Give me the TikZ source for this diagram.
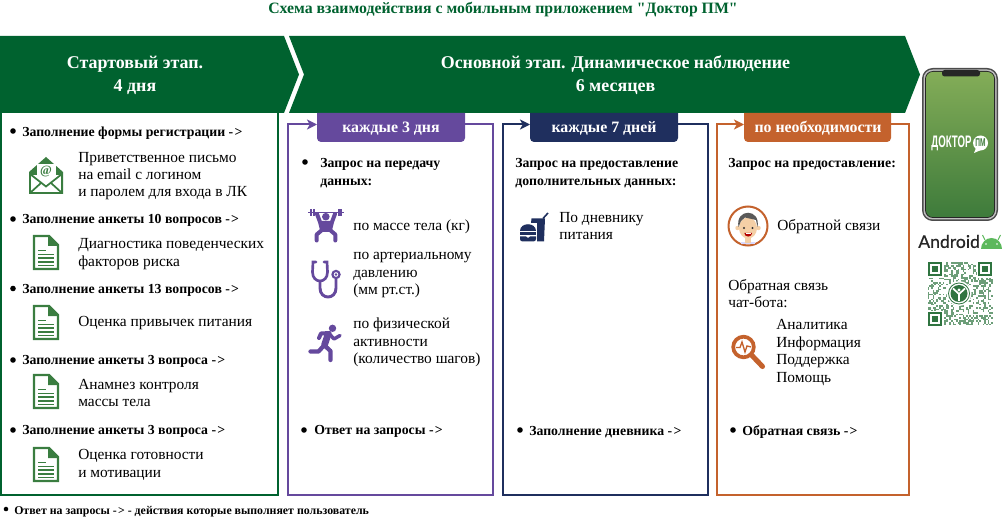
\documentclass[tikz,border=0pt]{standalone}
\usepackage{fontspec}
\setmainfont{Liberation Serif}
\newfontfamily\rawserif{Liberation Serif}
\newfontfamily\andfont{Lato}[FakeBold=0.5]
\newfontfamily\phonefont{Liberation Sans}[FakeStretch=0.58]
\usetikzlibrary{arrows.meta,calc}
\definecolor{bannergreen}{HTML}{00622F}
\definecolor{icongreen}{HTML}{3A7D40}
\definecolor{purp}{HTML}{65499D}
\definecolor{navy}{HTML}{1F2F5E}
\definecolor{orng}{HTML}{C4622D}
\newcommand{\arr}{-\kern.9pt>}
\tikzset{
 body/.style={anchor=west,inner sep=0pt,align=left,yshift=-1.2pt,font=\fontsize{11.55pt}{13.1pt}\selectfont,text=black},
 head/.style={anchor=west,inner sep=0pt,align=left,yshift=-1.3pt,font=\fontsize{10.35pt}{13.1pt}\selectfont\bfseries,text=black},
 bannertext/.style={inner sep=0pt,align=center,yshift=-1.2pt,text=white,font=\fontsize{13.45pt}{17.2pt}\selectfont\bfseries},
 tabtext/.style={inner sep=0pt,yshift=-1.2pt,text=white,font=\fontsize{11.9pt}{12pt}\selectfont\bfseries},
 dotb/.style={circle,fill=black,inner sep=0pt,minimum size=4.2pt},
 framearrow/.style={line width=1.5pt,-{Stealth[length=7.5pt,width=7.5pt,inset=2pt]}},
}
\newcommand{\docicon}[2]{\begin{scope}[shift={(#1,#2)}]
 \draw[icongreen,line width=1.6pt,line join=miter] (1,1)--(16,1)--(25,10)--(25,34)--(1,34)--cycle;
 \fill[icongreen] (15,1)--(25,11)--(15,11)--cycle;
 \draw[icongreen,line width=1.1pt] (5,15.5)--(13,15.5) (5,19.5)--(21,19.5) (5,23.2)--(21,23.2) (5,27)--(21,27) (5,30.5)--(21,30.5);
\end{scope}}
\begin{document}
\begin{tikzpicture}[x=0.75pt,y=-0.75pt]
\useasboundingbox (0,0) rectangle (1002,520);
% title
\node[inner sep=0pt,text=bannergreen,font=\rawserif\fontsize{11.85pt}{12pt}\selectfont\bfseries] (title) at (503,9.5) {Схема взаимодействия с мобильным приложением "Доктор ПМ"};
% banners
\fill[bannergreen] (0,36)--(284,36)--(299,74.5)--(284,113)--(0,113)--cycle;
\fill[bannergreen] (289,36)--(905,36)--(920,74.5)--(905,113)--(289,113)--(304,74.5)--cycle;
\node[bannertext] (b1) at (135,73.5) {Стартовый этап.\\4 дня};
\node[bannertext] (b2) at (615.5,73.5) {Основной этап. Динамическое наблюдение\\6 месяцев};
% left box
\draw[bannergreen,line width=1.5pt] (1,113)--(1,494.5)--(278,494.5)--(278,113);
% left content
\foreach \n/\y/\t in {1/131/Заполнение формы регистрации \arr,2/219/Заполнение анкеты 10 вопросов \arr,3/288.5/Заполнение анкеты 13 вопросов \arr,4/360/Заполнение анкеты 3 вопроса \arr,5/430/Заполнение анкеты 3 вопроса \arr}{
 \node[dotb] (ld\n) at (13,\y) {};
 \node[head] (lh\n) at (22,\y) {\t};
}
% mail icon
\fill[icongreen] (29,172)--(46,157)--(63,172)--(63,194)--(29,194)--cycle;
\fill[white] (31,175) rectangle (61,192);
\fill[white] (36.5,164) rectangle (55.5,180);
\node[inner sep=0pt,text=icongreen,font=\fontsize{9.5pt}{9.5pt}\selectfont\bfseries] (at) at (46,171.5) {@};
\draw[icongreen,line width=1.3pt] (30,174)--(46,186.5)--(62,174);
\draw[icongreen,line width=1.3pt] (30,193)--(41,183) (62,193)--(51,183);
\node[body] (t1) at (78,174.5) {Приветственное письмо\\на email с логином\\и паролем для входа в ЛК};
\docicon{33}{235}
\node[body] (t2) at (78,252.5) {Диагностика поведенческих\\факторов риска};
\docicon{33}{305}
\node[body] (t3) at (78,321) {Оценка привычек питания};
\docicon{33}{374}
\node[body] (t4) at (78,391.5) {Анамнез контроля\\массы тела};
\docicon{33}{447}
\node[body] (t5) at (78,463.5) {Оценка готовности\\и мотивации};
% bottom note
\node[dotb,minimum size=3.4pt] (nd) at (6,509) {};
\node[anchor=west,inner sep=0pt,yshift=-1.1pt,font=\fontsize{8.9pt}{10pt}\selectfont\bfseries] (note) at (14,510) {Ответ на запросы \arr{} - действия которые выполняет пользователь};
% tabs
\fill[purp] (317,113) [rounded corners=3pt] --(317,142)--(465,142) [sharp corners] --(465,113)--cycle;
\fill[navy] (530,113) [rounded corners=3pt] --(530,142)--(678,142) [sharp corners] --(678,113)--cycle;
\fill[orng] (744,113) [rounded corners=3pt] --(744,142)--(891,142) [sharp corners] --(891,113)--cycle;
\node[tabtext] (ta) at (391,127) {каждые 3 дня};
\node[tabtext] (tb) at (604,127) {каждые 7 дней};
\node[tabtext] (tc) at (818,127) {по необходимости};
% frames
\coordinate (a1) at (465,124.5); \coordinate (a2) at (317,124.5);
\coordinate (b3) at (678,124.5); \coordinate (b4) at (530,124.5);
\coordinate (c1) at (891,124.5); \coordinate (c2) at (744,124.5);
\draw[purp,framearrow] (a1)--(493,124.5)--(493,495)--(288,495)--(288,124.5)--(a2);
\draw[navy,framearrow] (b3)--(708,124.5)--(708,495)--(503,495)--(503,124.5)--(b4);
\draw[orng,framearrow] (c1)--(909,124.5)--(909,495)--(717,495)--(717,124.5)--(c2);
% purple col
\node[dotb] (pd) at (305,162) {};
\node[head] (p1) at (320,171.5) {Запрос на передачу\\данных:};
\node[body] (p2) at (353,225) {по массе тела (кг)};
\node[body] (p3) at (353,273.5) {по артериальному\\давлению\\(мм рт.ст.)};
\node[body] (p4) at (353,341) {по физической\\активности\\(количество шагов)};
\node[dotb] (pd2) at (304,430) {};
\node[head] (p5) at (314,430) {Ответ на запросы \arr};
% barbell
\begin{scope}[purp]
\draw[line width=1pt] (308,212.7)--(344,212.7);
\draw[line width=1.5pt] (311,209.5)--(311,216) (313.5,209)--(313.5,216.5) (338.5,209)--(338.5,216.5) (341,209.5)--(341,216);
\draw[line width=3pt,line join=round,line cap=round] (317,214)--(320,222)--(322,230)--(316.7,234.5)--(316.7,240.5);
\draw[line width=3pt,line join=round,line cap=round] (335,214)--(332,222)--(330,230)--(335.3,234.5)--(335.3,240.5);
\fill (319.5,221)--(332.5,221)--(330.5,232)--(321.5,232)--cycle;
\fill (325.8,216.7) circle (3.8);
% stethoscope
\draw[line width=2pt,line cap=round] (316,262)--(313,262)--(312.5,272) .. controls (312.5,284) and (327.5,284) .. (327.5,272)--(327,262)--(324,262);
\draw[line width=2.2pt] (320,281) -- (320,288) .. controls (320,300) and (336,300) .. (336,288) -- (336,279);
\draw[line width=1.6pt] (336,274.5) circle (3.6);
\fill (336,274.5) circle (1.3);
% runner
\fill (332.5,328.3) circle (3.7);
\draw[line width=5pt,line cap=round] (328,334.5)--(324.5,345);
\draw[line width=3pt,line cap=round,line join=round] (319,338)--(321,333.5)--(329.5,333);
\draw[line width=3.2pt,line cap=round,line join=round] (324,345)--(330.5,351)--(330.5,360);
\draw[line width=3.2pt,line cap=round,line join=round] (323.5,346)--(318.5,351.5)--(310.5,351.5);
\draw[line width=2.6pt,line cap=round,line join=round] (329.5,334)--(334,339)--(340,335.5);
\end{scope}
% navy col
\node[head] (n1) at (515,171.5) {Запрос на предоставление\\дополнительных данных:};
\node[body] (n2) at (559,224.5) {По дневнику\\питания};
\node[dotb] (nd2) at (520,430) {};
\node[head] (n3) at (529,430) {Заполнение дневника \arr};
\begin{scope}[navy]
\fill (531.5,218.5)--(545,218.5)--(544,241.5)--(537,241.5)--(537,223)--(531,223)--cycle;
\draw[line width=1.2pt] (543,218.5)--(548,213);
\fill (520,231) .. controls (520,222) and (536,222) .. (536,231)--cycle;
\fill (520,232.5) rectangle (536,235);
\fill (520,236.5)--(526,236.5)--(528,238)--(530,236.5)--(536,236.5)--(536,239) arc (0:90:2.5) --(522.5,241.5) arc (90:180:2.5)--cycle;
\end{scope}
% orange col
\node[head] (o1) at (728,163) {Запрос на предоставление:};
\node[body] (o2) at (777,225) {Обратной связи};
\node[body] (o3) at (728,292) {Обратная связь\\чат-бота:};
\node[body] (o4) at (776,351) {Аналитика\\Информация\\Поддержка\\Помощь};
\node[dotb] (od2) at (733,430) {};
\node[head] (o5) at (742,430) {Обратная связь \arr};
% face
\definecolor{skin}{HTML}{F4CFA6}
\draw[orng,line width=1.5pt,fill=white] (748,226) circle (19.5);
\fill[blue!15] (741,242) rectangle (755,244.5);
\fill[skin] (745,238) rectangle (751,243);
\fill[skin] (737.5,228) circle (2.2) (758.5,228) circle (2.2);
\fill[skin] (748,228) ellipse (9 and 10.5);
\fill[black!65] (738.5,227) .. controls (735,208) and (761,208) .. (757.5,227) -- (756,220) -- (745,217.5) -- (741,221) -- cycle;
\fill[black!80] (744,228) circle (1.2) (752.5,228) circle (1.2);
\fill[red!70!black] (744.3,233) arc (180:0:3.9 and 3.6) -- cycle;
\fill[white] (745.5,233) rectangle (750.8,234.2);
% magnifier
\draw[orng,line width=2.8pt] (743.5,347) circle (10.3);
\draw[orng,line width=3.8pt,line cap=round] (751.5,355)--(762.5,366.5);
\draw[orng,line width=1pt] (736,347.5)--(740,347.5)--(742,342)--(745,352)--(747,346)--(751,347);
% phone
\fill[black!70,rounded corners=8pt] (922,68) rectangle (998,221);
\fill[gray!50,rounded corners=7pt] (923.5,69.5) rectangle (996.5,219.5);
\fill[black!85,rounded corners=6pt] (925,71) rectangle (995,218);
\definecolor{phtop}{HTML}{84AD58}\definecolor{phbot}{HTML}{3E7B3B}
\begin{scope}
\clip[rounded corners=5pt] (926,72) rectangle (994,217);
\shade[top color=phtop,bottom color=phbot] (926,71) rectangle (994,217);
\end{scope}
\fill[black!85,rounded corners=2pt] (942,70) rectangle (980,76.5);
\node[inner sep=0pt,text=white,font=\phonefont\fontsize{12.5pt}{12.5pt}\selectfont\bfseries] (dok) at (951.5,143) {ДОКТОР};
\fill[white] (980.5,143) circle (7.5);
\fill[white] (976,148)--(974,153)--(981,150)--cycle;
\node[inner sep=0pt,text=phbot,font=\phonefont\fontsize{8.5pt}{8.5pt}\selectfont\bfseries] (pm) at (980.5,143) {ПМ};
% android
\node[inner sep=0pt,anchor=west,font=\andfont\fontsize{13.2pt}{14pt}\selectfont,text=black!85] (android) at (918,241.5) {Android};
\definecolor{andg}{HTML}{5CB85C}
\fill[andg] (981,249) arc (180:360:10.5 and 11)--cycle;
\draw[andg,line width=.8pt] (985,240)--(982.5,235) (998,240)--(1000.5,235);
\fill[white] (986,244) circle (.9) (997,244) circle (.9);
% QR
\definecolor{qrc}{HTML}{2F7440}
\pgfmathsetseed{4321}
\foreach \i in {0,...,38}{\foreach \j in {0,...,37}{
 \pgfmathparse{rnd}
 \ifdim\pgfmathresult pt>0.6pt
  \fill[qrc!70] ({927.5+\i*1.67},{262+\j*1.67}) rectangle ++(1.67,1.67);
 \fi}}
\foreach \x/\y in {928/262,978/262,928/312}{
 \fill[white] (\x-1.5,\y-1.5) rectangle ++(17,17);
 \fill[qrc] (\x,\y) rectangle ++(14,14);
 \fill[white] (\x+2.3,\y+2.3) rectangle ++(9.4,9.4);
 \fill[qrc] (\x+4.2,\y+4.2) rectangle ++(5.6,5.6);
}
\fill[white] (959,293.5) circle (12.5);
\draw[qrc,line width=.6pt] (959,293.5) circle (10.5);
\fill[qrc] (959,293.5) circle (8.5);
\draw[white,line width=1.3pt] (959,294)--(959,301) (959,294)--(953,288.5) (959,294)--(965,288.5);
\fill[white] (959,290) circle (1.6);
\end{tikzpicture}
\end{document}
